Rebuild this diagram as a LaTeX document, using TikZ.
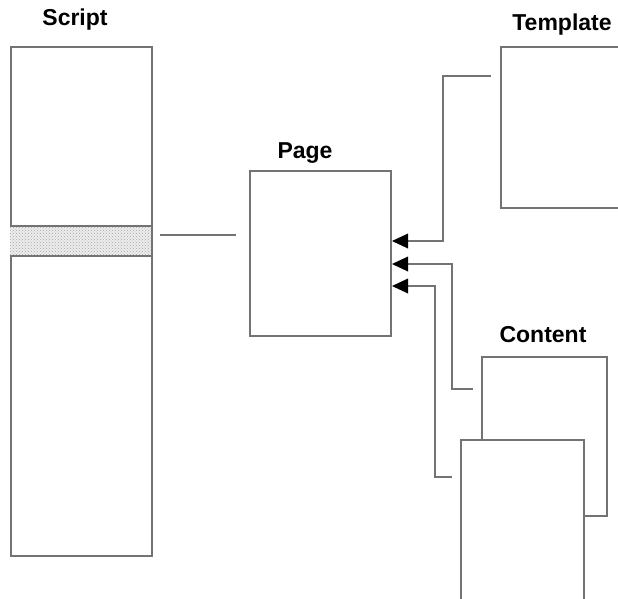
\documentclass[tikz,border=0pt]{standalone}
\usepackage{fontspec}
\setmainfont{Liberation Sans}
\usetikzlibrary{arrows.meta, patterns}

\begin{document}
\begin{tikzpicture}[
  x=1pt, y=-1pt,
  box/.style={draw=black!55, line width=2pt, fill=white, anchor=north west,
              inner sep=0pt},
  conn/.style={draw=black!55, line width=2pt},
  arr/.style={conn, -{Triangle[length=16pt, width=15pt, color=black, fill=black, line width=0pt]}},
  ttl/.style={font=\fontsize{23}{26}\selectfont\bfseries, inner sep=0pt}
]
\useasboundingbox (0,0) rectangle (618,598);
\clip (0,0) rectangle (618,598);

% script column with the highlighted band
\node[box, minimum width=141pt, minimum height=509pt] (script) at (10,46) {};
\path[fill=black!7] (10,226) rectangle (151,256);
\path[pattern=crosshatch dots, pattern color=black!35] (10,226) rectangle (151,256);
\draw[conn] (10,226) -- (151,226) (10,256) -- (151,256);
\node[ttl] (scriptlbl) at (75,20) {Script};

% page
\node[box, minimum width=141pt, minimum height=165pt] (page) at (249,170) {};
\node[ttl] (pagelbl) at (305,153) {Page};

% template (runs off the right side)
\node[box, minimum width=150pt, minimum height=161pt] (tmpl) at (500,46) {};
\node[ttl] (tmpllbl) at (562,25) {Template};

% two stacked content sheets
\node[box, minimum width=125pt, minimum height=159pt] (cback) at (481,356) {};
\node[box, minimum width=123pt, minimum height=190pt] (cfront) at (460,439) {};
\node[ttl] (contlbl) at (543,335) {Content};

% free-standing link from the band towards the page
\coordinate (bandout) at (160,235);
\coordinate (pagein) at (236,235);
\draw[conn] (bandout) -- (pagein);

% feeds into the page
\coordinate (tmplout) at (491,76);
\coordinate (cbackout) at (473,389);
\coordinate (cfrontout) at (452,477);
\coordinate (tip1) at (392,241);
\coordinate (tip2) at (392,264);
\coordinate (tip3) at (392,286);
\draw[arr] (tmplout) -| (443,241) -- (tip1);
\draw[arr] (cbackout) -| (452,264) -- (tip2);
\draw[arr] (cfrontout) -| (435,286) -- (tip3);
\end{tikzpicture}
\end{document}
